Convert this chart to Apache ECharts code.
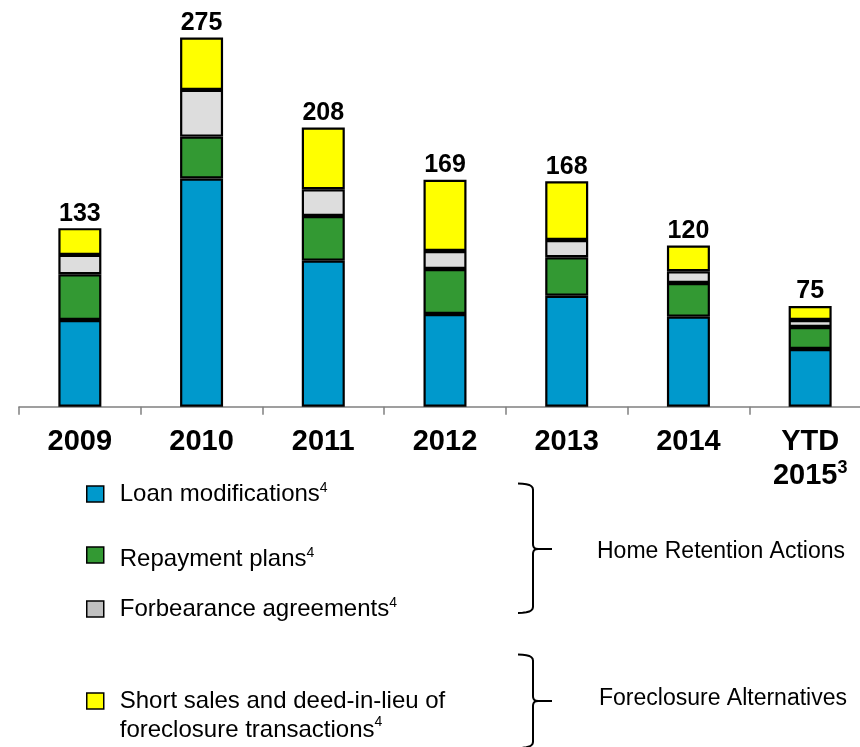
<!DOCTYPE html>
<html>
<head>
<meta charset="utf-8">
<script src="https://cdn.jsdelivr.net/npm/echarts@6/dist/echarts.min.js"></script>
<style>
html, body { margin: 0; padding: 0; background: #fff; }
#main { width: 860px; height: 747px; }
</style>
</head>
<body>
<div id="main"></div>
<script>
var FONT = "'Liberation Sans', Arial, sans-serif";

// data (thousands)
var years = ['2009', '2010', '2011', '2012', '2013', '2014', 'YTD 2015'];
var loanMods = [64.6, 170, 108.8, 69.1, 82.7, 67.1, 43];
var repayPlans = [34.1, 31.2, 33.3, 33.5, 28.6, 25.1, 16.4];
var forbearance = [14.4, 34.8, 19.9, 13.4, 12.9, 8.7, 5.2];
var shortSales = [19.9, 39, 46, 53, 43.8, 19.1, 10.4];
var totals = [133, 275, 208, 169, 168, 120, 75];

var myChart = echarts.init(document.getElementById('main'));

function barSeries(name, data, color) {
    return {
        name: name,
        type: 'bar',
        stack: 'all',
        barWidth: 43,
        data: data,
        itemStyle: { color: color, borderColor: '#000', borderWidth: 2.2 }
    };
}

var richA = { fontSize: 24, fontFamily: FONT, color: '#000', padding: [0, 0, 0, 11], lineHeight: 26 };
var richS = { fontSize: 14, fontFamily: FONT, color: '#000', verticalAlign: 'top', lineHeight: 14 };

// one legend per row, so rows can sit where they are in the picture
function legendRow(name, top, color, extra) {
    var lg = {
        data: [name],
        left: 86,
        top: top,
        padding: 0,
        orient: 'vertical',
        icon: 'rect',
        itemWidth: 17,
        itemHeight: 16,
        selectedMode: false,
        itemStyle: { color: color, borderColor: '#000', borderWidth: 1.5 },
        formatter: function (n) { return '{a|' + n + '}{s|4}'; },
        textStyle: { rich: { a: richA, s: richS } }
    };
    if (extra) {
        for (var k in extra) lg[k] = extra[k];
    }
    return lg;
}

// curly brace as a polyline, little quadratic bends at the corners
function quad(p0, c, p1, pts) {
    for (var i = 1; i <= 6; i++) {
        var t = i / 6;
        pts.push([
            (1 - t) * (1 - t) * p0[0] + 2 * (1 - t) * t * c[0] + t * t * p1[0],
            (1 - t) * (1 - t) * p0[1] + 2 * (1 - t) * t * c[1] + t * t * p1[1]
        ]);
    }
}
function braceHalf(yEnd, mid, dir) {
    var x0 = 518, x1 = 533, xt = 552;
    var pts = [[x0, yEnd]];
    quad([x0, yEnd], [x1, yEnd], [x1, yEnd + 6 * dir], pts);
    pts.push([x1, mid - 5 * dir]);
    quad([x1, mid - 5 * dir], [x1, mid], [x1 + 5, mid], pts);
    pts.push([xt, mid]);
    return pts;
}
function brace(top, mid, bot) {
    return [
        { type: 'polyline', shape: { points: braceHalf(top, mid, 1) }, style: { fill: null, stroke: '#000', lineWidth: 2 } },
        { type: 'polyline', shape: { points: braceHalf(bot, mid, -1) }, style: { fill: null, stroke: '#000', lineWidth: 2 } }
    ];
}

var option = {
    backgroundColor: '#fff',
    animation: false,
    grid: { left: 19, top: 4, width: 852, height: 402.7, outerBoundsMode: 'none' },
    xAxis: {
        type: 'category',
        data: years,
        axisLine: { show: true, lineStyle: { color: '#808080', width: 1.5 } },
        axisTick: { show: true, alignWithLabel: false, length: 8, lineStyle: { color: '#808080', width: 1.5 } },
        axisLabel: {
            margin: 18,
            interval: 0,
            formatter: function (v) {
                if (v === 'YTD 2015') return '{b|YTD}\n{b|2015}{s|3}';
                return '{b|' + v + '}';
            },
            rich: {
                b: { fontSize: 29, fontWeight: 'bold', fontFamily: FONT, color: '#000', lineHeight: 34 },
                s: { fontSize: 18, fontWeight: 'bold', fontFamily: FONT, color: '#000', verticalAlign: 'top', lineHeight: 28 }
            }
        }
    },
    yAxis: { type: 'value', min: 0, max: 300, show: false, splitLine: { show: false } },
    legend: [
        legendRow('Loan modifications', 481, '#0099CC'),
        legendRow('Repayment plans', 546, '#339933', {
            textStyle: { padding: [8, 0, 0, 0], rich: { a: richA, s: richS } }
        }),
        legendRow('Forbearance agreements', 596, '#C0C0C0'),
        legendRow('Short sales and deed-in-lieu of foreclosure transactions', 689, '#FFFF00', {
            formatter: function () {
                return '{a|Short sales and deed-in-lieu of}\n{a|foreclosure transactions}{s|4}';
            },
            textStyle: {
                padding: [29, 0, 0, 0],
                rich: {
                    a: { fontSize: 24, fontFamily: FONT, color: '#000', padding: [0, 0, 0, 11], lineHeight: 29 },
                    s: richS
                }
            }
        })
    ],
    graphic: brace(483.5, 549, 613).concat(brace(654.5, 701, 748)).concat([
        { type: 'text', x: 597, y: 552, style: { text: 'Home Retention Actions', fontSize: 23, fontFamily: FONT, fill: '#000', verticalAlign: 'middle' } },
        { type: 'text', x: 599, y: 699, style: { text: 'Foreclosure Alternatives', fontSize: 23, fontFamily: FONT, fill: '#000', verticalAlign: 'middle' } }
    ]),
    series: [
        barSeries('Loan modifications', loanMods, '#0099CC'),
        barSeries('Repayment plans', repayPlans, '#339933'),
        barSeries('Forbearance agreements', forbearance, '#DDDDDD'),
        (function () {
            var s = barSeries('Short sales and deed-in-lieu of foreclosure transactions', shortSales, '#FFFF00');
            s.label = {
                show: true,
                position: 'top',
                distance: 2,
                formatter: function (p) { return totals[p.dataIndex]; },
                fontSize: 25,
                fontWeight: 'bold',
                fontFamily: FONT,
                color: '#000'
            };
            return s;
        })()
    ]
};

myChart.setOption(option);
</script>
</body>
</html>
